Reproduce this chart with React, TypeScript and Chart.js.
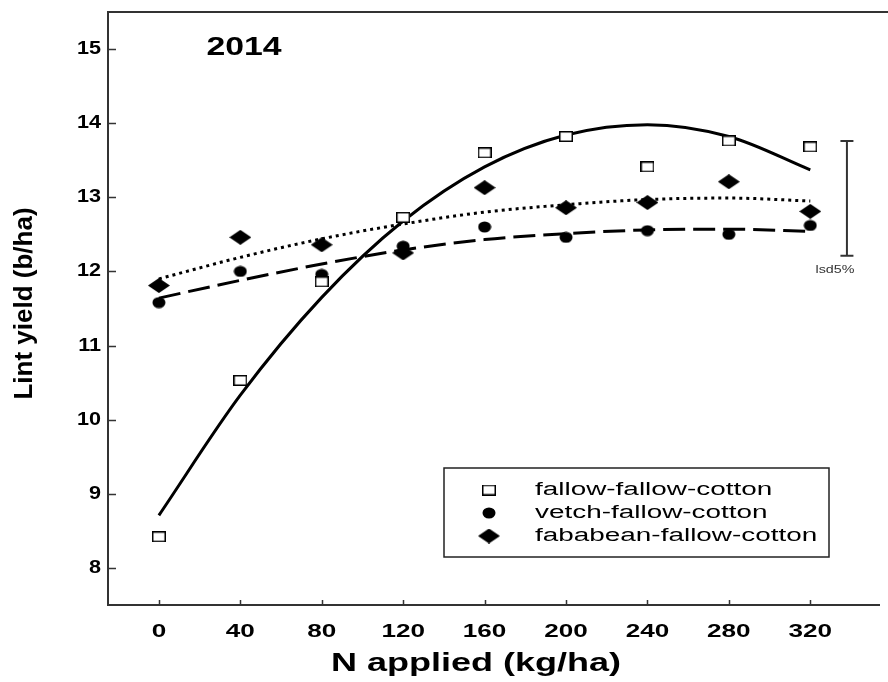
import React, { useEffect, useRef } from 'react';
import { Chart, registerables } from 'chart.js';

Chart.register(...registerables);

// ---- data ----
const nApplied = [0, 40, 80, 120, 160, 200, 240, 280, 320];
const fallowYield = [8.42, 10.53, 11.86, 12.73, 13.6, 13.82, 13.41, 13.76, 13.68];
const vetchYield = [11.58, 12.0, 11.96, 12.34, 12.6, 12.46, 12.55, 12.5, 12.62];
const fababeanYield = [11.81, 12.46, 12.36, 12.25, 13.13, 12.86, 12.93, 13.21, 12.81];

// fitted curves at the same N rates
const fallowFit = [8.71, 10.33, 11.65, 12.68, 13.41, 13.84, 13.98, 13.82, 13.37];
const vetchFit = [11.64, 11.88, 12.1, 12.29, 12.43, 12.51, 12.56, 12.57, 12.54];
const fababeanFit = [11.9, 12.19, 12.44, 12.64, 12.8, 12.9, 12.97, 12.99, 12.95];

const lsdX = [338];
const lsdRange = [12.21, 13.76];

const xTicks = [0, 40, 80, 120, 160, 200, 240, 280, 320];
const yTicks = [8, 9, 10, 11, 12, 13, 14, 15];

const seriesLabels = ['fallow-fallow-cotton', 'vetch-fallow-cotton', 'fababean-fallow-cotton'];
const yearLabel = '2014';
const xTitle = 'N applied (kg/ha)';
const yTitle = 'Lint yield (b/ha)';
const lsdLabel = 'lsd5%';

const FONT = '"Liberation Sans", Arial, sans-serif';

function makeMarker(kind: string): HTMLCanvasElement {
  const c = document.createElement('canvas');
  if (kind === 'square') {
    c.width = 14; c.height = 11;
    const g = c.getContext('2d')!;
    g.fillStyle = '#fff';
    g.fillRect(1, 1, 12, 9);
    g.strokeStyle = '#000';
    g.lineWidth = 1.5;
    g.strokeRect(0.75, 0.75, 12.5, 9.5);
  } else if (kind === 'circle') {
    c.width = 14; c.height = 12;
    const g = c.getContext('2d')!;
    g.fillStyle = '#000';
    g.beginPath();
    g.ellipse(7, 6, 6.5, 5.5, 0, 0, Math.PI * 2);
    g.fill();
  } else {
    c.width = 22; c.height = 15;
    const g = c.getContext('2d')!;
    g.fillStyle = '#000';
    g.beginPath();
    g.moveTo(0, 7.5);
    g.lineTo(11, 0);
    g.lineTo(22, 7.5);
    g.lineTo(11, 15);
    g.closePath();
    g.fill();
  }
  return c;
}

function stretchedText(ctx: CanvasRenderingContext2D, text: string, x: number, y: number, sx: number, align: CanvasTextAlign) {
  ctx.save();
  ctx.translate(x, y);
  ctx.scale(sx, 1);
  ctx.textAlign = align;
  ctx.fillText(text, 0, 0);
  ctx.restore();
}

export default function App() {
  const ref = useRef<HTMLCanvasElement | null>(null);

  useEffect(() => {
    if (!ref.current) return;
    const markers = [makeMarker('square'), makeMarker('circle'), makeMarker('diamond')];
    const pts = (ys: number[]) => nApplied.map((x, i) => ({ x, y: ys[i] }));

    const decor = {
      id: 'decor',
      afterDraw(chart: any) {
        const ctx: CanvasRenderingContext2D = chart.ctx;
        const { left, right, top, bottom } = chart.chartArea;
        const xs = chart.scales.x;
        const ys = chart.scales.y;
        ctx.save();
        // top frame line
        ctx.strokeStyle = '#333';
        ctx.lineWidth = 2;
        ctx.beginPath();
        ctx.moveTo(left - 1, top);
        ctx.lineTo(chart.width, top);
        ctx.stroke();
        // inward tick marks
        ctx.lineWidth = 1.5;
        ctx.beginPath();
        xTicks.forEach((v) => {
          const px = Math.round(xs.getPixelForValue(v)) + 0.5;
          ctx.moveTo(px, bottom);
          ctx.lineTo(px, bottom - 5);
        });
        yTicks.forEach((v) => {
          const py = Math.round(ys.getPixelForValue(v)) + 0.5;
          ctx.moveTo(left, py);
          ctx.lineTo(left + 8, py);
        });
        ctx.stroke();

        ctx.fillStyle = '#000';
        ctx.textBaseline = 'middle';
        // tick labels
        ctx.font = `bold 18px ${FONT}`;
        xTicks.forEach((v) => stretchedText(ctx, String(v), xs.getPixelForValue(v), bottom + 27, 1.45, 'center'));
        yTicks.forEach((v) => stretchedText(ctx, String(v), left - 7, ys.getPixelForValue(v), 1.2, 'right'));

        // year label
        ctx.font = `bold 26px ${FONT}`;
        stretchedText(ctx, yearLabel, 244, 48, 1.3, 'center');

        // axis titles
        ctx.font = `bold 25px ${FONT}`;
        stretchedText(ctx, xTitle, 476, bottom + 59, 1.44, 'center');
        ctx.save();
        ctx.translate(25, (top + bottom) / 2 - 5);
        ctx.rotate(-Math.PI / 2);
        ctx.font = `bold 26px ${FONT}`;
        ctx.textAlign = 'center';
        ctx.fillText(yTitle, 0, 0);
        ctx.restore();

        // lsd label
        ctx.fillStyle = '#333';
        ctx.font = `11px ${FONT}`;
        stretchedText(ctx, lsdLabel, xs.getPixelForValue(lsdX[0]) - 12, ys.getPixelForValue(lsdRange[0]) + 14, 1.3, 'center');

        // legend
        const lx = 444, ly = 468, lw = 385, lh = 89;
        ctx.strokeStyle = '#222';
        ctx.lineWidth = 1.5;
        ctx.strokeRect(lx, ly, lw, lh);
        ctx.fillStyle = '#000';
        ctx.font = `18px ${FONT}`;
        seriesLabels.forEach((lab, i) => {
          const cy = ly + 22 + i * 23;
          const m = markers[i];
          ctx.drawImage(m, 489 - m.width / 2, cy - m.height / 2);
          stretchedText(ctx, lab, 535, cy, 1.55, 'left');
        });
        ctx.restore();
      },
    };

    const chart = new Chart(ref.current, {
      type: 'line',
      data: {
        datasets: [
          { label: seriesLabels[0], data: pts(fallowYield), showLine: false, pointStyle: markers[0] as any, pointRadius: 6 },
          { label: seriesLabels[1], data: pts(vetchYield), showLine: false, pointStyle: markers[1] as any, pointRadius: 6 },
          { label: seriesLabels[2], data: pts(fababeanYield), showLine: false, pointStyle: markers[2] as any, pointRadius: 6 },
          { label: 'fit1', data: pts(fallowFit), borderColor: '#000', borderWidth: 3, pointRadius: 0, cubicInterpolationMode: 'monotone' },
          { label: 'fit2', data: pts(vetchFit), borderColor: '#000', borderWidth: 3, borderDash: [22, 8], pointRadius: 0, cubicInterpolationMode: 'monotone' },
          { label: 'fit3', data: pts(fababeanFit), borderColor: '#000', borderWidth: 3, borderDash: [3, 4], pointRadius: 0, cubicInterpolationMode: 'monotone' },
          {
            label: 'lsd',
            data: lsdRange.map((y) => ({ x: lsdX[0], y })),
            borderColor: '#333',
            borderWidth: 2,
            pointStyle: 'line',
            pointRadius: 6.5,
            pointBorderWidth: 2,
            pointBorderColor: '#333',
          },
        ] as any,
      },
      options: {
        animation: false,
        responsive: false,
        devicePixelRatio: 1,
        layout: { padding: { left: 108, top: 12, right: 0, bottom: 77 } },
        plugins: { legend: { display: false }, tooltip: { enabled: false } },
        scales: {
          x: {
            type: 'linear',
            min: -25,
            max: 354,
            ticks: { display: false },
            grid: { display: false, drawTicks: false },
            border: { display: true, color: '#333', width: 2 },
            afterBuildTicks: (s: any) => { s.ticks = xTicks.map((value) => ({ value })); },
          },
          y: {
            type: 'linear',
            min: 7.5,
            max: 15.5,
            ticks: { display: false },
            grid: { display: false, drawTicks: false },
            border: { display: true, color: '#333', width: 2 },
            afterBuildTicks: (s: any) => { s.ticks = yTicks.map((value) => ({ value })); },
          },
        },
      },
      plugins: [decor],
    } as any);
    return () => chart.destroy();
  }, []);

  return (
    <div style={{ position: 'absolute', left: 0, top: 0, width: 888, height: 682, background: '#fff' }}>
      <canvas ref={ref} width={888} height={682} />
    </div>
  );
}
